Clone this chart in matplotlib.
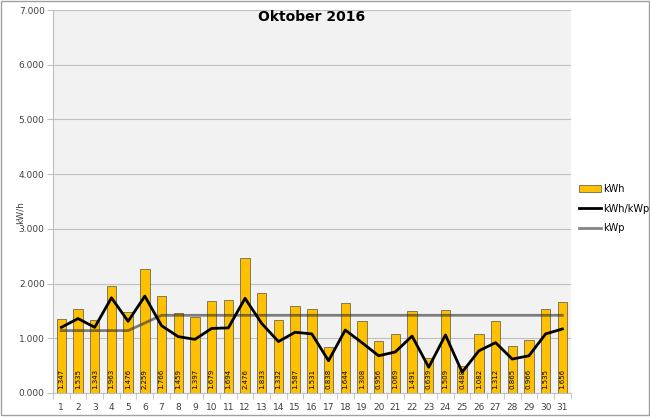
import matplotlib
matplotlib.use("Agg")
import matplotlib.pyplot as plt
from matplotlib.patches import Rectangle
from matplotlib.lines import Line2D

days = [str(i) for i in range(1, 32)]
kwh = [1.347, 1.535, 1.343, 1.963, 1.476, 2.259, 1.766, 1.459, 1.397, 1.679,
       1.694, 2.476, 1.833, 1.332, 1.587, 1.531, 0.838, 1.644, 1.308, 0.956,
       1.069, 1.491, 0.639, 1.509, 0.488, 1.082, 1.312, 0.865, 0.966, 1.535, 1.656]
kwh_kwp = [1.20, 1.36, 1.20, 1.74, 1.31, 1.77, 1.23, 1.03, 0.98, 1.18,
           1.19, 1.73, 1.27, 0.94, 1.11, 1.08, 0.59, 1.15, 0.92, 0.68,
           0.75, 1.04, 0.47, 1.06, 0.38, 0.77, 0.92, 0.62, 0.68, 1.08, 1.17]
kwp = [1.14, 1.14, 1.14, 1.14, 1.14, 1.28] + [1.42] * 25
yticks = [0, 1, 2, 3, 4, 5, 6, 7]
ytick_labels = ["0.000", "1.000", "2.000", "3.000", "4.000", "5.000", "6.000", "7.000"]

fig = plt.figure(figsize=(6.5, 4.17), dpi=100)
fig.patch.set_facecolor("white")
fig.add_artist(Rectangle((0.001, 0.004), 0.997, 0.994, transform=fig.transFigure,
                         fill=False, edgecolor="#a0a0a0", linewidth=1.0))
ax = fig.add_axes([0.0815, 0.0576, 0.7965, 0.9184])
ax.set_facecolor("#f2f2f2")

x = list(range(len(days)))
ax.bar(x, kwh, width=0.56, color="#FFC000", edgecolor="#6f6a50",
       linewidth=0.6, zorder=3, label="kWh")
ax.plot(x, kwp, color="#303030", alpha=0.6, linewidth=2.0, zorder=4, label="kWp")
ax.plot(x, kwh_kwp, color="black", linewidth=2.0, zorder=5, label="kWh/kWp")

for xi, v in zip(x, kwh):
    ax.text(xi, 0.07, f"{v:.3f}", rotation=90, ha="center", va="bottom",
            fontsize=5, color="black", zorder=6)

ax.set_xlim(-0.5, len(days) - 0.5)
ax.set_ylim(0, 7)
ax.set_yticks(yticks)
ax.set_yticklabels(ytick_labels)
ax.set_xticks(x)
ax.set_xticklabels(days)
ax.set_xticks([i + 0.5 for i in range(-1, len(days))], minor=True)
ax.tick_params(axis="x", which="major", length=0, labelsize=6.5, colors="#404040", pad=7)
ax.tick_params(axis="x", which="minor", length=4, color="#bfbfbf")
ax.tick_params(axis="y", length=4, color="#bfbfbf", labelsize=6.5, colors="#404040", pad=2)
ax.grid(axis="y", color="#bfbfbf", linewidth=0.8, zorder=0)
ax.set_axisbelow(True)
for s in ["top", "right"]:
    ax.spines[s].set_visible(False)
ax.spines["left"].set_color("#bfbfbf")
ax.spines["bottom"].set_color("#bfbfbf")

ax.text(0.5, 0.982, "Oktober 2016", transform=ax.transAxes, ha="center", va="center",
        fontsize=10, fontweight="bold", color="black")
fig.text(0.031, 0.49, "kW/h", rotation=90, ha="center", va="center", fontsize=6.5, color="#404040")

handles = [Rectangle((0, 0), 1, 1, facecolor="#FFC000", edgecolor="#6f6a50", linewidth=0.6),
           Line2D([], [], color="black", linewidth=2.0),
           Line2D([], [], color="#303030", alpha=0.6, linewidth=2.0)]
fig.legend(handles, ["kWh", "kWh/kWp", "kWp"], loc="center left",
           bbox_to_anchor=(0.885, 0.5), frameon=False, fontsize=7,
           handlelength=2.2, handleheight=0.7, labelspacing=1.0, handletextpad=0.3,
           borderaxespad=0)

fig.savefig("out.png", dpi=100)
